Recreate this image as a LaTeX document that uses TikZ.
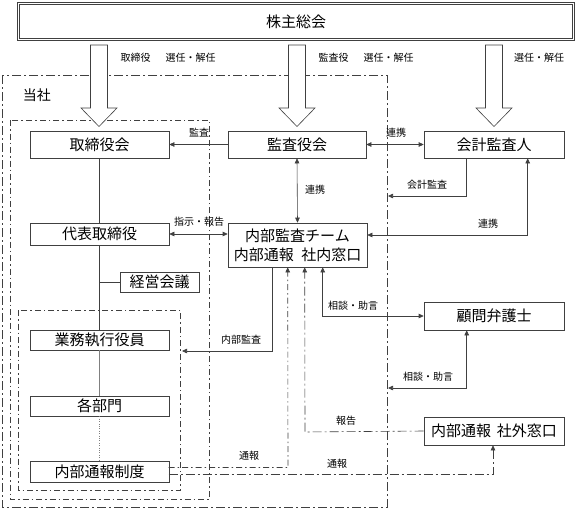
\documentclass[tikz,border=0pt]{standalone}
\usepackage{fontspec}
\setmainfont{Noto Sans CJK JP}
\usetikzlibrary{arrows.meta,calc}
\definecolor{ln}{RGB}{64,64,64}
\tikzset{
  box/.style={draw=ln,line width=0.6pt,rectangle,inner sep=0pt,font=\fontsize{15}{15}\selectfont,text=black},
  lab/.style={font=\fontsize{10}{10}\selectfont,inner sep=0pt,text=black},
  conn/.style={draw=ln,line width=0.6pt},
  arr/.style={conn,-{Triangle[length=5pt,width=4.5pt]}},
  darr/.style={conn,{Triangle[length=5pt,width=4.5pt]}-{Triangle[length=5pt,width=4.5pt]}},
  dd/.style={dash pattern=on 9pt off 3pt on 2pt off 3pt},
  ddin/.style={dash pattern=on 6pt off 3pt on 1.5pt off 3pt},
  hollow/.style={draw=ln,line width=0.6pt,fill=white},
}
\begin{document}
\begin{tikzpicture}[x=1pt,y=-1pt]
\useasboundingbox (0,0) rectangle (576,509);
% frames
\draw[conn,dd] (2,75) rectangle (387,507);
\draw[conn,ddin] (10,120) rectangle (209,499);
\draw[conn,ddin] (18,310) rectangle (180,490);
\node[font=\fontsize{14}{14}\selectfont,inner sep=0pt] (tosha) at (37,95) {当社};
% top box
\node[box,double=white,double distance=1.4pt,line width=0.5pt,minimum width=555pt,minimum height=36pt] (share) at (296,21.5) {株主総会};
% hollow arrows
\foreach \cx in {99,297,494}{
  \draw[hollow] (\cx-8.5,45) -- (\cx+8.5,45) -- (\cx+8.5,108) -- (\cx+18,108) -- (\cx,126.5) -- (\cx-18,108) -- (\cx-8.5,108) -- cycle;
}
\node[lab] (l1) at (168,58) {取締役\hspace{1.5em}選任・解任};
\node[lab] (l2) at (366,58) {監査役\hspace{1.5em}選任・解任};
\node[lab] (l3) at (539,58) {選任・解任};
% boxes
\node[box,minimum width=139pt,minimum height=27pt] (board) at (99.5,144.5) {取締役会};
\node[box,minimum width=138pt,minimum height=27pt] (kansa) at (297,144.5) {監査役会};
\node[box,minimum width=140pt,minimum height=27pt] (kaikei) at (494,144.5) {会計監査人};
\node[box,minimum width=139pt,minimum height=22pt] (daihyo) at (99.5,234) {代表取締役};
\node[box,minimum width=139pt,minimum height=44pt,align=center,font=\fontsize{15}{19}\selectfont] (naibu) at (297.5,245) {内部監査チーム\\内部通報\hspace{0.5em}社内窓口};
\node[box,minimum width=79pt,minimum height=20pt] (keiei) at (159.5,282) {経営会議};
\node[box,minimum width=139pt,minimum height=20pt] (gyomu) at (99.5,340) {業務執行役員};
\node[box,minimum width=139pt,minimum height=20pt] (kakubu) at (99.5,406) {各部門};
\node[box,minimum width=139pt,minimum height=21pt] (seido) at (99.5,471.5) {内部通報制度};
\node[box,minimum width=140pt,minimum height=28pt] (komon) at (494,316) {顧問弁護士};
\node[box,minimum width=140pt,minimum height=28pt] (shagai) at (494,431) {内部通報\hspace{0.4em}社外窓口};
% tree lines
\draw[conn] (board.south) -- (daihyo.north);
\draw[conn] (daihyo.south) -- (gyomu.north);
\coordinate (br) at (99.5,282);
\draw[conn] (br) -- (keiei.west);
\draw[conn,line width=0.4pt,draw=gray] (gyomu.south) -- (kakubu.north);
\draw[conn,line width=0.4pt,draw=gray,dotted] (kakubu.south) -- (seido.north);
% relations
\draw[arr] (kansa.west) -- (board.east);
\node[lab] (lk) at (199,133) {監査};
\draw[darr] (kansa.east) -- (kaikei.west);
\node[lab] (lr1) at (396,133) {連携};
\draw[darr] (kansa.south) -- (naibu.north);
\node[lab] (lr2) at (315,190) {連携};
\draw[darr] (daihyo.east) -- (daihyo.east -| naibu.west);
\node[lab] (ls) at (199,222) {指示・報告};
\coordinate (ka1) at (388,196);
\draw[arr] ($(kaikei.south west)+(43,0)$) |- (ka1);
\node[lab] (lka) at (427,185) {会計監査};
\coordinate (r3) at (528,235);
\draw[darr] (naibu.east |- r3) -| ($(kaikei.south west)+(104,0)$);
\node[lab] (lr3) at (488,224) {連携};
\coordinate (na) at (182,351);
\draw[arr] ($(naibu.south west)+(45,0)$) |- (na);
\node[lab] (lna) at (241,340) {内部監査};
\draw[darr] ($(naibu.south west)+(95,0)$) |- (komon.west);
\node[lab] (lsd1) at (353,306) {相談・助言};
\coordinate (sd2) at (388,388);
\draw[darr] ($(komon.south west)+(43,0)$) |- (sd2);
\node[lab] (lsd2) at (428,377) {相談・助言};
\coordinate (hk) at (305,432);
\draw[arr,dd] (shagai.west) -- (hk) -- ($(naibu.south west)+(77,0)$);
\node[lab] (lhk) at (346,421) {報告};
\coordinate (t1a) at (168.5,467.5);
\coordinate (t1b) at (288,467.5);
\draw[arr,ddin] (t1a) -- (t1b) -- ($(naibu.south west)+(60,0)$);
\node[lab] (lt1) at (249,456) {通報};
\coordinate (t2a) at (168.5,474);
\coordinate (t2b) at (493,474);
\draw[arr,dd] (t2a) -- (t2b) -- (shagai.south -| t2b);
\node[lab] (lt2) at (337,464) {通報};
\end{tikzpicture}
\end{document}
